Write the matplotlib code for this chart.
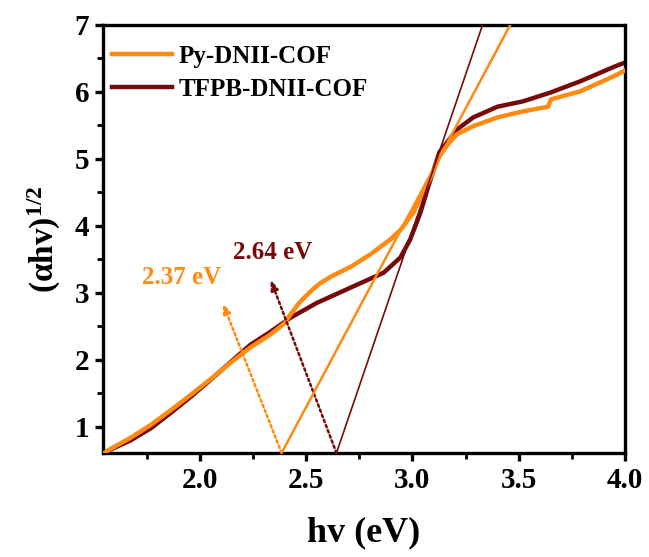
import matplotlib
matplotlib.use("Agg")
import matplotlib.pyplot as plt

plt.rcParams['font.family'] = ['Liberation Serif', 'DejaVu Serif']
plt.rcParams['font.weight'] = 'bold'
plt.rcParams['mathtext.fontset'] = 'custom'
plt.rcParams['mathtext.rm'] = 'Liberation Serif'
plt.rcParams['mathtext.it'] = 'Liberation Serif:italic'
plt.rcParams['mathtext.bf'] = 'Liberation Serif:bold'

# Data
py_x = [1.55, 1.58, 1.676, 1.77, 1.864, 1.958, 2.05, 2.146, 2.24, 2.333, 2.40, 2.427, 2.47, 2.52,
        2.56, 2.615, 2.71, 2.80, 2.897, 2.944, 3.005, 3.05, 3.09, 3.127, 3.17, 3.21, 3.286, 3.40,
        3.52, 3.638, 3.652, 3.79, 3.944, 4.0]
py_y = [0.61, 0.67, 0.84, 1.03, 1.25, 1.48, 1.71, 1.96, 2.19, 2.38, 2.55, 2.68, 2.86, 3.02,
        3.13, 3.24, 3.39, 3.57, 3.80, 3.94, 4.20, 4.50, 4.75, 5.04, 5.23, 5.37, 5.49, 5.62,
        5.71, 5.78, 5.89, 6.01, 6.23, 6.32]

tf_x = [1.55, 1.559, 1.676, 1.77, 1.864, 1.958, 2.05, 2.146, 2.24, 2.333, 2.427, 2.55, 2.71,
        2.864, 2.944, 2.99, 3.038, 3.075, 3.127, 3.21, 3.286, 3.40, 3.52, 3.648, 3.79, 3.944, 4.0]
tf_y = [0.61, 0.63, 0.80, 0.98, 1.21, 1.45, 1.70, 1.97, 2.23, 2.42, 2.63, 2.85, 3.08,
        3.30, 3.53, 3.80, 4.20, 4.59, 5.10, 5.44, 5.62, 5.78, 5.86, 5.99, 6.16, 6.37, 6.44]

# tangent lines: x where they leave the bottom and the top of the axes
tan_y = [0.61, 7.0]
py_tan_x = [2.385, 3.46]
tf_tan_x = [2.643, 3.33]

# arrow tips
py_arrow_tip = (2.108, 2.85)
tf_arrow_tip = (2.333, 3.2)

band_gaps = ["2.37 eV", "2.64 eV"]
labels = ["Py-DNII-COF", "TFPB-DNII-COF"]

c_or = '#FF8A12'
c_dr = '#760A0A'

fig = plt.figure(figsize=(6.49, 5.57), dpi=100)
ax = fig.add_axes([103/649, 1-453/557, (625-103)/649, (453-25)/557])

ax.plot(py_x, py_y, color=c_or, lw=3.2, label=labels[0], zorder=3, solid_joinstyle='round')
ax.plot(tf_x, tf_y, color=c_dr, lw=3.2, label=labels[1], zorder=2, solid_joinstyle='round')
ax.plot(py_tan_x, tan_y, color=c_or, lw=1.8, zorder=4)
ax.plot(tf_tan_x, tan_y, color=c_dr, lw=1.2, zorder=4)

# dotted arrows
ax.annotate('', xy=py_arrow_tip, xytext=(py_tan_x[0], tan_y[0]),
            arrowprops=dict(arrowstyle='-|>,head_length=0.6,head_width=0.22', color=c_or,
                            lw=1.8, ls=(0, (1, 1.2)), shrinkA=0, shrinkB=0))
ax.annotate('', xy=tf_arrow_tip, xytext=(tf_tan_x[0], tan_y[0]),
            arrowprops=dict(arrowstyle='-|>,head_length=0.6,head_width=0.22', color=c_dr,
                            lw=1.8, ls=(0, (1, 1.2)), shrinkA=0, shrinkB=0))

ax.text(1.913, 3.23, band_gaps[0], color=c_or, fontsize=18, fontweight='bold', ha='center', va='center')
ax.text(2.343, 3.60, band_gaps[1], color=c_dr, fontsize=18, fontweight='bold', ha='center', va='center')

ax.set_xlim(1.545, 4.0)
ax.set_ylim(0.61, 7.0)
ax.set_xticks([2.0, 2.5, 3.0, 3.5, 4.0])
ax.set_xticks([1.75, 2.25, 2.75, 3.25, 3.75], minor=True)
ax.set_yticks([1, 2, 3, 4, 5, 6, 7])
ax.set_yticks([1.5, 2.5, 3.5, 4.5, 5.5, 6.5], minor=True)
ax.xaxis.set_major_formatter(matplotlib.ticker.FormatStrFormatter('%.1f'))

for s in ax.spines.values():
    s.set_linewidth(2.4)
ax.tick_params(which='major', direction='out', length=6, width=2.4, labelsize=21, pad=4)
ax.tick_params(which='minor', direction='out', length=4, width=2.0)
for lab in ax.get_xticklabels() + ax.get_yticklabels():
    lab.set_fontweight('bold')

ax.set_xlabel('hv (eV)', fontsize=26, fontweight='bold', labelpad=16)
ax.set_ylabel(r'$\mathrm{(\alpha}\mathbf{hv}\mathrm{)^{1/2}}$', fontsize=24, labelpad=8)

leg = ax.legend(loc='upper left', bbox_to_anchor=(0.0077, 0.966), frameon=False,
                handlelength=2.4, handletextpad=0.28, borderaxespad=0.0, borderpad=0.2,
                labelspacing=0.42, prop={'weight': 'bold', 'size': 18})

fig.savefig('out.png', dpi=100)
